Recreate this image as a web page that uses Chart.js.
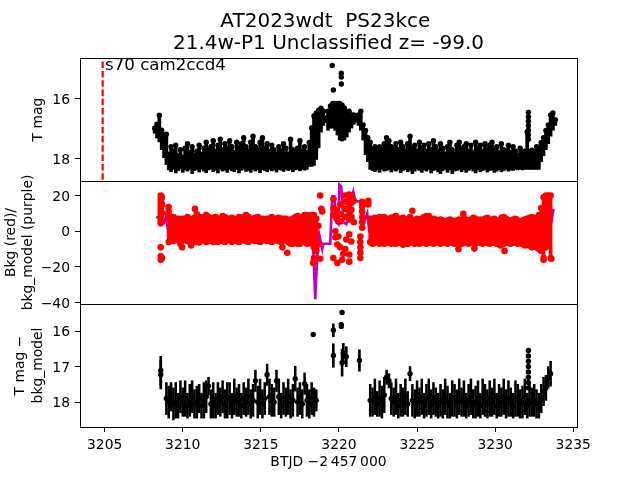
<!DOCTYPE html>
<html>
<head>
<meta charset="utf-8">
<style>
  html, body { margin: 0; padding: 0; background: #fff; }
  #wrap { width: 640px; height: 480px; }
</style>
<script src="https://cdn.jsdelivr.net/npm/chart.js@4"></script>
</head>
<body>
<div id="wrap"><canvas id="lc" width="640" height="480"></canvas></div>
<script>
// ===== Data =====
const titleLines = ["AT2023wdt  PS23kce ", "21.4w-P1 Unclassified z= -99.0"];
const xTicks = [3205, 3210, 3215, 3220, 3225, 3230, 3235];
const topTicks = [16, 18];
const midTicks = [20, 0, -20, -40];
const botTicks = [16, 17, 18];

const times = [
  3208.20,3208.35,3208.50,3208.65,3208.80,3208.95,3209.10,3209.25,3209.40,3209.55,
  3209.70,3209.85,3210.00,3210.15,3210.30,3210.45,3210.60,3210.75,3210.90,3211.05,
  3211.20,3211.35,3211.50,3211.65,3211.80,3211.95,3212.10,3212.25,3212.40,3212.55,
  3212.70,3212.85,3213.00,3213.15,3213.30,3213.45,3213.60,3213.75,3213.90,3214.05,
  3214.20,3214.35,3214.50,3214.65,3214.80,3214.95,3215.10,3215.25,3215.40,3215.55,
  3215.70,3215.85,3216.00,3216.15,3216.30,3216.45,3216.60,3216.75,3216.90,3217.05,
  3217.20,3217.35,3217.50,3217.65,3217.80,3217.95,3218.10,3218.25,3218.40,3218.55,
  3218.70,3218.85,3219.00,3219.15,3219.30,3219.45,3219.60,3219.75,3219.90,3220.05,
  3220.20,3220.35,3220.50,3220.65,3220.80,3220.95,3221.10,3221.25,3221.40,3221.55,
  3221.70,3221.85,3222.00,3222.15,3222.30,3222.45,3222.60,3222.75,3222.90,3223.05,
  3223.20,3223.35,3223.50,3223.65,3223.80,3223.95,3224.10,3224.25,3224.40,3224.55,
  3224.70,3224.85,3225.00,3225.15,3225.30,3225.45,3225.60,3225.75,3225.90,3226.05,
  3226.20,3226.35,3226.50,3226.65,3226.80,3226.95,3227.10,3227.25,3227.40,3227.55,
  3227.70,3227.85,3228.00,3228.15,3228.30,3228.45,3228.60,3228.75,3228.90,3229.05,
  3229.20,3229.35,3229.50,3229.65,3229.80,3229.95,3230.10,3230.25,3230.40,3230.55,
  3230.70,3230.85,3231.00,3231.15,3231.30,3231.45,3231.60,3231.75,3231.90,3232.05,
  3232.20,3232.35,3232.50,3232.65,3232.80,3232.95,3233.10,3233.25,3233.40,3233.55,
  3233.70,3233.85
];

// top panel: bright and faint end of each error bar
const topBright = [
  16.98,16.85,16.55,17.05,17.21,17.18,
  17.85,17.6,17.75,17.55,17.9,17.7,17.95,17.65,17.5,17.8,
  17.6,17.9,17.75,17.55,17.85,17.65,17.45,17.7,17.6,17.4,
  17.75,17.55,17.35,17.7,17.5,17.65,17.4,17.6,17.8,17.45,
  17.65,17.5,17.3,17.6,17.75,17.45,17.25,17.6,17.7,17.45,
  17.3,17.65,17.5,17.75,17.55,17.7,17.85,17.6,17.75,17.5,
  17.65,17.85,17.35,17.7,17.8,17.65,17.4,17.75,17.6,17.8,
  17.46,16.97,16.57,16.47,16.38,16.31,16.41,16.64,16.41,16.24,
  16.15,16.15,16.15,16.15,16.21,16.31,16.47,16.41,16.54,16.54,
  16.57,16.54,16.41,16.87,17.06,
  17.3,17.45,17.7,17.6,17.75,17.6,17.7,17.5,17.3,17.4,
  17.6,17.7,17.5,17.7,17.45,17.6,17.75,17.5,17.25,17.65,
  17.55,17.75,17.45,17.65,17.55,17.75,17.5,17.7,17.4,17.6,
  17.75,17.5,17.65,17.85,17.6,17.45,17.7,17.85,17.55,17.45,
  17.7,17.6,17.5,17.75,17.55,17.8,17.45,17.65,17.55,17.75,
  17.5,17.7,17.55,17.45,17.7,17.6,17.8,17.5,17.7,17.75,
  17.55,17.8,17.6,17.75,17.9,17.65,17.8,17.75,17.1,
  17.78,17.72,17.78,17.6,17.62,17.46,17.3,17.06,16.87,16.54,16.47,16.7
];
const topFaint = [
  17.15,17.31,17.44,17.7,17.97,18.2,
  18.38,18.44,18.36,18.48,18.4,18.35,18.46,18.38,18.42,18.36,
  18.5,18.4,18.37,18.45,18.36,18.42,18.47,18.38,18.35,18.44,
  18.4,18.48,18.36,18.42,18.38,18.46,18.36,18.41,18.44,18.37,
  18.48,18.39,18.35,18.43,18.4,18.46,18.36,18.42,18.38,18.47,
  18.37,18.4,18.44,18.36,18.41,18.38,18.45,18.36,18.39,18.43,
  18.36,18.4,18.37,18.44,18.38,18.36,18.41,18.37,18.39,18.36,
  18.26,18.26,18.23,18.03,17.64,17.11,16.89,16.79,17.05,16.98,
  16.98,17.05,17.21,17.38,17.41,17.38,17.28,17.11,16.98,16.85,
  16.79,16.89,17.05,17.38,17.87,
  18.1,18.36,18.4,18.44,18.38,18.46,18.36,18.42,18.4,18.37,
  18.45,18.38,18.42,18.36,18.47,18.4,18.37,18.44,18.39,18.5,
  18.42,18.36,18.4,18.46,18.38,18.42,18.36,18.48,18.4,18.37,
  18.44,18.5,18.4,18.36,18.46,18.38,18.5,18.42,18.4,18.36,
  18.44,18.38,18.46,18.4,18.36,18.42,18.48,18.38,18.44,18.4,
  18.36,18.45,18.4,18.38,18.46,18.42,18.37,18.44,18.4,18.36,
  18.42,18.38,18.4,18.36,18.38,18.36,18.38,18.36,18.36,
  18.36,18.36,18.36,18.36,18.36,18.1,17.9,17.7,17.5,17.25,17.05,16.89
];
const topExtraTimes = [3219.57,3220.15,3220.15,3220.15,3219.64,3232.13,3232.13,3232.13,3232.13,3232.13,3232.13,3232.13];
const topExtraMags = [14.88,15.14,15.27,15.5,15.7,16.45,16.6,16.75,16.9,17.05,17.2,17.35];

// dashed marker line, top panel only
const eventTimes = [3204.87, 3204.87];
const eventMags = [14.75, 18.75];

// middle panel: red background envelope, sparse red points, purple model
const redHi = [
  null,null,null,null,null,
  null,9,7,8,7,
  7,6.5,7,7,8,7,6.5,7.5,9.5,8,
  7,8,9,8,7,7.5,8,7,7,8.5,
  8,7,7,7.5,6.5,7,8,7,8,9,
  8,7,7,7.5,8,7,7,6.5,7,7,
  8,7,7,7.5,7,7,7,6,6.5,7,
  8,8.5,7.5,8,9,9,8,9,9,7,
  null,null,null,null,null,null,null,null,null,null,null,
  null,null,null,null,null,null,null,null,null,null,null,
  7,6,7.5,7,8,6.5,8,6.5,7,7.5,
  8,8.5,7,7,7.5,6.5,6.5,8,6.5,6,
  7,6.5,7,8,8.5,8.5,7,7,6.5,6,
  6.5,6,5.5,6,6.5,6,5.5,6,6.5,6,
  7,6.5,6,6.5,7.5,7,6,6.5,6,7,
  7.5,6,6.5,7,6,6,7.5,8,7,6,
  6,6.5,7,6,5.5,6,6.5,7,7.5,8,
  7,7.5,9,
  13,19,20,20,20,null,null
];
const redLo = [
  null,null,null,null,null,
  null,-6,-5,-5.5,-4.5,
  -5,-7,-5,-5,-5.5,-6,-5,-6,-5,-5.5,
  -5,-5,-6,-5.5,-5,-6,-5,-6,-5,-5.5,
  -6,-5,-5,-6,-5,-5.5,-6,-5,-5,-5.5,
  -6,-5,-5,-5.5,-5,-6,-5,-5,-5.5,-5,
  -6,-5,-5,-5.5,-6,-5,-5,-6,-7,-7,
  -6,-7,-7,-6,-6,-7,-6,-7,-9,-11,
  null,null,null,null,null,null,null,null,null,null,null,
  null,null,null,null,null,null,null,null,null,null,null,
  -6,-7,-6.5,-6,-7,-6,-7,-6.5,-6,-7,
  -6,-7,-6.5,-6,-7.5,-6,-7,-6.5,-6,-7,
  -6,-7,-6.5,-6,-7,-6.5,-6,-7,-6,-6.5,
  -7,-6,-6.5,-7,-6,-6.5,-7,-6,-6.5,-7,
  -6,-6.5,-7,-6,-6.5,-7,-6,-6.5,-7,-6,
  -6.5,-7,-6,-6.5,-7,-6,-6.5,-7,-6,-6.5,
  -7,-6,-6.5,-7,-6.5,-7,-8,-7,-8,-9,
  -8,-9,-10,
  -11,-15,-9,-8,-15,null,null
];
const redExtraTimes = [
  3208.59,3208.59,3208.59,3208.59,3208.59,3208.59,3208.59,3208.59,3208.59,3208.59,3208.59,3208.59,
  3208.67,3208.67,3208.67,3208.67,3209.09,3209.09,3209.09,
  3210.78,3209.96,3211.05,3210.53,3216.69,3216.38,
  3218.8,3218.87,3218.93,3218.68,3218.55,3218.35,3218.4,3218.8,3218.68,
  3219.64,3219.9,3220.2,3219.77,3219.77,3219.96,3219.9,3220.08,3220.28,3220.66,3220.66,3220.47,3220.66,3220.79,3220.4,
  3219.65,3219.65,3219.65,3219.85,3219.85,3220.1,3220.1,3220.1,3220.4,3220.4,3220.4,3220.4,
  3220.65,3220.65,3220.65,3220.65,3220.65,3220.8,3220.8,3220.8,3220.8,3220.95,3220.95,
  3221.49,3221.49,3221.49,3221.49,3221.49,3221.49,3221.37,3221.37,3221.37,3221.37,3221.37,3221.88,3221.88,
  3224.7,3227.96,3227.65,3228.67,3230.6,3230.35,3233.1,3233.6
];
const redExtraVals = [
  20,18,16,14,12,10,8,6,4.5,-9,-14,-16,
  19,15,10,-15,13.5,11,9,
  12.5,-9,-6.3,-8,-12,-9,
  20,12.6,11,3,-2,-17.7,-15,-15.4,-7.4,
  -15,-17.7,-16,0,-3.4,-3,-7.4,-9,-12.6,-17,-13,-4.6,-1.7,-5.7,-10,
  18,13,9,12,7,15,9.5,5.5,20,16.5,12.5,8,
  20.5,17,13.5,10,6.6,20,16,12,8,17,5,
  16.5,14,11,8,5,2,-3,-6,-9,-12,-15,17,15,
  11.5,9.7,-10,-9.7,-11,-8,-16,-15.4
];
const modelTimes = [
  3208.29,3208.48,3208.67,3208.8,3208.93,3209.06,3209.5,3210,3210.5,3211,
  3211.5,3212,3212.5,3213,3213.5,3214,3214.5,3215,3215.5,3216,
  3216.5,3217,3217.5,3218,3218.16,3218.35,3218.48,3218.61,3218.74,3218.93,
  3219,3219.44,3219.57,3219.7,3219.83,3219.96,3220.02,3220.15,3220.28,3220.47,
  3220.92,3221.05,3221.37,3221.49,3221.62,3221.81,3221.94,3222.5,3223,3223.5,
  3223.9,3224.2,3224.7,3225.2,3225.6,3226,3226.38,3226.7,3227,3227.5,
  3228,3228.5,3229,3229.5,3230,3230.5,3231,3231.5,3232.1,3232.5,
  3233,3233.3,3233.55,3233.74
];
const modelVals = [
  8,7.5,4,4.5,8.5,0,-0.5,-0.3,-0.7,-0.2,
  -0.3,0.2,-0.8,0,0.2,-0.1,0.2,0.4,-0.2,-0.6,
  0.5,-0.4,-0.2,-0.6,-0.5,-8.5,-38,-14,-2,-10,
  -7,-7,19.5,19.5,5,4,26,25,5,4,
  22,17,16.5,5,5.5,10,0,-0.2,-0.4,-0.8,
  1.5,-0.3,-0.2,-0.3,-0.5,0.2,2.2,-0.2,0.3,0,
  -0.2,0.2,0.2,-0.5,-0.3,-0.2,0.1,-0.8,1.7,-0.8,
  -0.2,-0.3,3,12.5
];

// bottom panel: background-subtracted magnitude and its error
const botMag = [
  null,null,null,null,null,
  17.9,18.0,17.85,18.05,17.95,
  18.1,17.85,18.0,17.9,18.1,17.95,17.85,18.05,18.0,17.9,
  18.1,17.95,17.85,17.55,18.05,17.95,18.1,17.9,18.0,17.85,
  18.05,17.95,17.9,18.1,17.85,18.0,17.95,18.1,17.9,18.0,
  17.85,18.05,17.95,17.4,18.0,17.85,18.05,17.9,17.23,17.85,
  17.95,18.0,17.4,17.85,18.1,17.9,18.0,17.85,18.05,17.95,
  17.34,18.0,17.9,18.05,17.48,17.95,18.05,17.9,18.0,17.95,
  null,null,null,null,null,null,null,null,null,null,null,
  null,null,null,null,null,null,null,null,null,null,null,
  17.95,18.0,17.85,18.05,17.9,18.0,17.8,17.3,17.4,17.9,
  18.0,17.85,18.1,17.95,18.0,17.85,18.05,17.2,17.95,18.05,
  17.9,18.0,17.85,18.1,17.95,17.85,18.05,17.9,18.0,18.1,
  17.95,18.05,17.85,18.0,18.1,17.9,17.95,18.05,17.85,18.0,
  17.9,18.1,17.95,17.85,18.05,18.0,17.9,18.1,17.85,17.95,
  18.05,17.9,18.0,17.85,18.1,17.95,18.0,17.85,18.05,17.9,
  18.0,18.1,17.9,17.95,18.05,18.0,17.85,18.1,17.95,18.0,
  17.95,18.05,18.1,
  17.9,17.7,17.6,17.3,17.2,null,null
];
const botErr = [
  null,null,null,null,null,
  0.45,0.45,0.4,0.45,0.5,
  0.35,0.45,0.4,0.5,0.35,0.45,0.45,0.4,0.45,0.4,
  0.35,0.5,0.45,0.25,0.4,0.5,0.35,0.45,0.4,0.45,
  0.4,0.5,0.45,0.35,0.5,0.4,0.45,0.35,0.45,0.4,
  0.5,0.4,0.45,0.3,0.45,0.5,0.4,0.45,0.3,0.5,
  0.45,0.4,0.3,0.5,0.35,0.45,0.4,0.5,0.4,0.45,
  0.35,0.4,0.45,0.4,0.3,0.45,0.4,0.45,0.4,0.3,
  null,null,null,null,null,null,null,null,null,null,null,
  null,null,null,null,null,null,null,null,null,null,null,
  0.45,0.4,0.5,0.35,0.5,0.45,0.5,0.2,0.2,0.45,
  0.4,0.5,0.35,0.45,0.4,0.5,0.35,0.2,0.45,0.4,
  0.5,0.4,0.5,0.35,0.45,0.5,0.4,0.45,0.4,0.35,
  0.45,0.4,0.5,0.45,0.35,0.5,0.45,0.4,0.5,0.4,
  0.5,0.35,0.45,0.5,0.4,0.45,0.5,0.35,0.5,0.45,
  0.4,0.5,0.4,0.5,0.35,0.45,0.4,0.5,0.4,0.5,
  0.4,0.35,0.5,0.45,0.4,0.45,0.5,0.35,0.45,0.4,
  0.45,0.4,0.35,
  0.4,0.4,0.35,0.3,0.35,null,null
];
const botExtraTimes = [3208.59,3208.59,3218.35,3219.64,3219.64,3220.2,3220.15,3220.15,3220.2,3220.28,3220.47,3221.31,3232.13,3232.13,3232.13,3232.13,3232.13,3232.13,3232.13,3232.13];
const botExtraMags = [17.11,17.23,16.1,15.98,16.69,15.48,15.82,15.87,16.89,16.63,16.72,16.83,16.55,16.7,16.85,17.0,17.15,17.3,17.45,17.6];
const botExtraErrs = [0.4,0.4,0.03,0.18,0.33,0.04,0.06,0.06,0.38,0.28,0.28,0.3,0.05,0.05,0.05,0.05,0.05,0.05,0.05,0.05];

// ===== Helpers =====
const FONT = "'DejaVu Sans', sans-serif";
const minus = (v) => String(v).replace("-", "\u2212");

function rangeBars(xs, lows, highs, color, yAxisID, barThickness) {
  const data = [];
  xs.forEach((x, i) => {
    if (lows[i] == null || highs[i] == null) return;
    data.push({ x, y: [lows[i], highs[i]] });
  });
  return {
    type: "bar",
    data,
    yAxisID,
    grouped: false,
    barThickness,
    backgroundColor: color,
    borderWidth: 0,
    borderSkipped: false,
  };
}

function dots(xs, ys, color, yAxisID, pointRadius) {
  const data = [];
  xs.forEach((x, i) => {
    if (ys[i] != null) data.push({ x, y: ys[i] });
  });
  return {
    type: "scatter",
    data,
    yAxisID,
    pointRadius,
    pointBackgroundColor: color,
    pointBorderWidth: 0,
    showLine: false,
  };
}

function line(xs, ys, color, yAxisID, borderWidth, borderDash) {
  return {
    type: "line",
    data: xs.map((x, i) => ({ x, y: ys[i] })),
    yAxisID,
    borderColor: color,
    borderWidth,
    borderDash: borderDash || [],
    pointRadius: 0,
    tension: 0,
    fill: false,
  };
}

function yAxis(min, max, reverse, tickList, titleText, titlePad) {
  return {
    type: "linear",
    position: "left",
    stack: "panels",
    stackWeight: 1,
    min,
    max,
    reverse,
    afterFit: (scale) => { scale.width = 80; },
    afterBuildTicks: (scale) => { scale.ticks = tickList.map((value) => ({ value })); },
    grid: { drawOnChartArea: false, color: "#000", tickColor: "#000", tickLength: 5, lineWidth: 1 },
    border: { display: true, color: "#000", width: 1 },
    ticks: {
      color: "#000",
      padding: 5,
      labelOffset: 1.5,
      font: { family: FONT, size: 13.9 },
      callback: (v) => minus(v),
    },
    title: {
      display: true,
      text: titleText,
      color: "#000",
      padding: { top: titlePad, bottom: 0 },
      font: { family: FONT, size: 13.9, lineHeight: 1.26 },
    },
  };
}

// frame for each panel plus the sector note inside the top panel
const panelFrame = {
  id: "panelFrame",
  afterDatasetsDraw(chart) {
    const { ctx, chartArea, scales } = chart;
    ctx.save();
    ctx.strokeStyle = "#000";
    ctx.lineWidth = 1;
    ["yTop", "yMid", "yBot"].forEach((id) => {
      const s = scales[id];
      ctx.strokeRect(chartArea.left + 0.5, s.top + 0.5, chartArea.right - chartArea.left, s.bottom - s.top);
    });
    ctx.fillStyle = "#000";
    ctx.font = "16.67px " + FONT;
    ctx.textBaseline = "alphabetic";
    ctx.fillText("s70 cam2ccd4", scales.x.getPixelForValue(3205.02), scales.yTop.getPixelForValue(15.03));
    ctx.restore();
  },
};

// ===== Chart =====
new Chart(document.getElementById("lc"), {
  data: {
    datasets: [
      line(eventTimes, eventMags, "#ff0000", "yTop", 2.2, [6.5, 2.8]),
      rangeBars(times, topBright, topFaint, "#000", "yTop", 3),
      dots(times, topBright, "#000", "yTop", 2.7),
      dots(topExtraTimes, topExtraMags, "#000", "yTop", 2.7),

      rangeBars(times, redLo, redHi, "#ff0000", "yMid", 3),
      dots(times, redHi, "#ff0000", "yMid", 3.3),
      dots(times, redLo, "#ff0000", "yMid", 3.3),
      dots(redExtraTimes, redExtraVals, "#ff0000", "yMid", 3.3),
      line(modelTimes, modelVals, "#bf00bf", "yMid", 2.6),

      rangeBars(times, botMag.map((m, i) => (m == null ? null : m - botErr[i])), botMag.map((m, i) => (m == null ? null : m + botErr[i])), "#000", "yBot", 1.9),
      dots(times, botMag, "#000", "yBot", 2.7),
      rangeBars(botExtraTimes, botExtraMags.map((m, i) => m - botExtraErrs[i]), botExtraMags.map((m, i) => m + botExtraErrs[i]), "#000", "yBot", 2),
      dots(botExtraTimes, botExtraMags, "#000", "yBot", 2.7),
    ],
  },
  options: {
    responsive: false,
    animation: false,
    layout: { padding: { right: 63, left: 0, top: 0, bottom: 0 } },
    plugins: {
      legend: { display: false },
      tooltip: { enabled: false },
      title: {
        display: true,
        text: titleLines,
        color: "#000",
        fullSize: false,
        padding: { top: 11, bottom: 3.6 },
        font: { family: FONT, size: 20, weight: "normal", lineHeight: 1.085 },
      },
    },
    scales: {
      x: {
        type: "linear",
        min: 3203.42,
        max: 3235.24,
        offset: false,
        afterFit: (scale) => { scale.height = 53; },
        afterBuildTicks: (scale) => { scale.ticks = xTicks.map((value) => ({ value })); },
        grid: { drawOnChartArea: false, color: "#000", tickColor: "#000", tickLength: 5, lineWidth: 1, offset: false },
        border: { display: true, color: "#000", width: 1 },
        ticks: { color: "#000", padding: 5, maxRotation: 0, font: { family: FONT, size: 13.9 }, callback: (v) => String(v) },
        title: {
          display: true,
          text: "BTJD \u22122\u2009457\u2009000",
          color: "#000",
          padding: { top: 0, bottom: 9 },
          font: { family: FONT, size: 13.9 },
        },
      },
      yBot: yAxis(15.24, 18.7, true, botTicks, ["T mag \u2212", "bkg_model"], 12),
      yMid: yAxis(-40.7, 28.1, false, midTicks, ["Bkg (red)/", "bkg_model (purple)"], 2.2),
      yTop: yAxis(14.63, 18.75, true, topTicks, "T mag", 30),
    },
  },
  plugins: [panelFrame],
});
</script>
</body>
</html>
